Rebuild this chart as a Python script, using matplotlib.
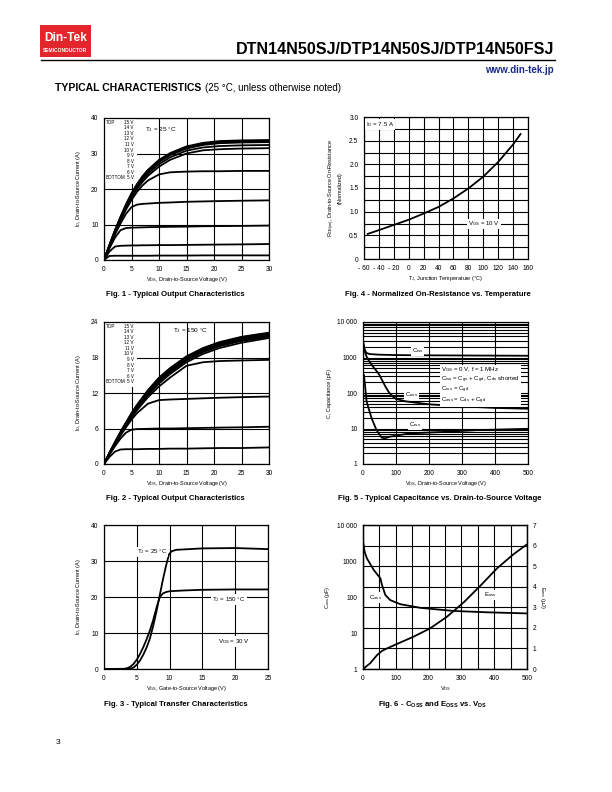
import matplotlib
matplotlib.use("Agg")
import matplotlib.pyplot as plt
from matplotlib.patches import Rectangle
import numpy as np

plt.rcParams["font.family"] = ["Liberation Sans", "DejaVu Sans"]
plt.rcParams["mathtext.fontset"] = "custom"
plt.rcParams["mathtext.rm"] = "Liberation Sans"
plt.rcParams["mathtext.it"] = "Liberation Sans:italic"
plt.rcParams["mathtext.bf"] = "Liberation Sans:bold"

# ---- Fig. 1 : output characteristics, TJ = 25 C
vgs_steps = [15, 14, 13, 12, 11, 10, 9, 8, 7, 6, 5]
vds_25 = [0, 1, 2, 3, 4, 5, 6, 7, 8, 10, 12, 15, 18, 21, 25, 30]
id_25 = [
    [0, 4.3, 8.4, 12.2, 15.7, 18.8, 21.4, 23.6, 25.4, 28.2, 30.1, 32.0, 33.0, 33.5, 33.7, 33.8],
    [0, 4.2, 8.3, 12.0, 15.5, 18.6, 21.2, 23.4, 25.2, 28.0, 29.9, 31.8, 32.8, 33.3, 33.5, 33.6],
    [0, 4.2, 8.2, 11.9, 15.3, 18.4, 21.0, 23.2, 25.0, 27.8, 29.7, 31.6, 32.6, 33.1, 33.3, 33.4],
    [0, 4.1, 8.1, 11.8, 15.2, 18.2, 20.8, 23.0, 24.8, 27.6, 29.5, 31.4, 32.4, 32.9, 33.1, 33.2],
    [0, 4.1, 8.0, 11.6, 15.0, 17.9, 20.4, 22.5, 24.3, 27.0, 28.9, 30.8, 31.7, 32.1, 32.3, 32.4],
    [0, 4.0, 7.8, 11.4, 14.7, 17.6, 20.0, 22.0, 23.7, 26.3, 28.2, 30.0, 30.9, 31.2, 31.4, 31.5],
    [0, 3.9, 7.6, 11.1, 14.2, 16.9, 19.2, 21.0, 22.4, 24.1, 24.7, 24.9, 25.0, 25.0, 25.1, 25.1],
    [0, 3.7, 7.2, 10.3, 13.0, 14.9, 15.6, 15.8, 15.9, 16.1, 16.2, 16.4, 16.5, 16.6, 16.7, 16.8],
    [0, 3.3, 6.3, 8.4, 9.0, 9.1, 9.15, 9.2, 9.25, 9.3, 9.35, 9.4, 9.5, 9.55, 9.6, 9.7],
    [0, 2.4, 3.8, 4.0, 4.05, 4.1, 4.1, 4.15, 4.15, 4.2, 4.2, 4.25, 4.3, 4.35, 4.4, 4.5],
    [0, 1.15, 1.2, 1.2, 1.2, 1.2, 1.2, 1.2, 1.2, 1.25, 1.25, 1.25, 1.3, 1.3, 1.3, 1.3],
]

# ---- Fig. 2 : output characteristics, TJ = 150 C
vds_150 = [0, 1, 2, 3, 4, 5, 6, 8, 10, 12, 15, 18, 21, 25, 30]
id_150 = [
    [0, 1.9, 3.7, 5.4, 7.0, 8.6, 10.0, 12.5, 14.6, 16.2, 18.2, 19.6, 20.6, 21.5, 22.2],
    [0, 1.9, 3.7, 5.4, 7.0, 8.5, 9.9, 12.4, 14.5, 16.1, 18.1, 19.5, 20.5, 21.4, 22.1],
    [0, 1.9, 3.6, 5.3, 6.9, 8.4, 9.8, 12.3, 14.4, 16.0, 18.0, 19.4, 20.4, 21.3, 22.0],
    [0, 1.8, 3.6, 5.3, 6.9, 8.4, 9.7, 12.2, 14.3, 15.9, 17.9, 19.3, 20.3, 21.2, 21.9],
    [0, 1.8, 3.6, 5.2, 6.8, 8.3, 9.6, 12.0, 14.1, 15.7, 17.7, 19.1, 20.1, 21.0, 21.7],
    [0, 1.8, 3.5, 5.2, 6.7, 8.2, 9.5, 11.9, 13.9, 15.5, 17.5, 18.9, 19.9, 20.8, 21.5],
    [0, 1.8, 3.5, 5.1, 6.6, 8.0, 9.3, 11.6, 13.6, 15.2, 17.2, 18.6, 19.6, 20.5, 21.3],
    [0, 1.7, 3.4, 5.0, 6.5, 7.9, 9.1, 11.3, 13.1, 14.6, 16.6, 17.2, 17.4, 17.5, 17.6],
    [0, 1.7, 3.3, 4.8, 6.2, 7.5, 8.6, 10.2, 10.8, 10.9, 11.0, 11.1, 11.2, 11.3, 11.4],
    [0, 1.6, 3.0, 4.3, 5.3, 5.8, 5.9, 5.95, 6.0, 6.0, 6.05, 6.1, 6.15, 6.2, 6.3],
    [0, 1.2, 2.1, 2.45, 2.5, 2.5, 2.5, 2.55, 2.55, 2.6, 2.6, 2.65, 2.7, 2.7, 2.8],
]

# ---- Fig. 3 : transfer characteristics
vgs_t25 = [0, 3, 4, 4.5, 5, 5.5, 6, 6.5, 7, 7.5, 8, 8.5, 9, 9.5, 9.9, 10.3, 11, 12, 15, 20, 25]
id_t25 = [0, 0, 0.1, 0.4, 1.2, 2.4, 4.0, 6.0, 8.5, 12.0, 16.0, 20.5, 25.0, 29.0, 31.8, 32.7, 33.1, 33.2, 33.5, 33.6, 33.3]
vgs_t150 = [0, 3, 3.5, 4, 4.5, 5, 5.5, 6, 6.5, 7, 7.5, 8, 8.5, 9, 9.5, 10, 12, 15, 20, 25]
id_t150 = [0, 0.05, 0.2, 0.6, 1.4, 2.6, 4.2, 6.1, 8.3, 10.7, 13.6, 17.0, 20.0, 21.0, 21.4, 21.6, 21.8, 22.0, 22.1, 22.1]

# ---- Fig. 4 : normalized on-resistance
tj = [-55, -40, -20, 0, 20, 40, 60, 80, 100, 120, 140, 150]
rds_norm = [0.53, 0.61, 0.72, 0.83, 0.96, 1.10, 1.28, 1.49, 1.74, 2.05, 2.42, 2.64]

# ---- Fig. 5 : capacitances
v_ciss = [0, 5, 10, 20, 50, 100, 200, 300, 400, 500]
ciss = [3000, 1700, 1350, 1250, 1200, 1170, 1150, 1140, 1130, 1120]
v_coss = [0, 5, 10, 20, 30, 40, 50, 60, 70, 80, 90, 100, 130, 200, 300, 400, 500]
coss = [2500, 1500, 1100, 750, 560, 430, 320, 210, 140, 100, 80, 68, 58, 48, 42, 38, 36]
v_crss = [3, 11, 26, 41, 57, 67, 82, 142, 243, 344, 500]
crss = [320, 57, 19.5, 9.0, 5.5, 5.3, 5.9, 7.3, 8.0, 9.0, 9.8]

# ---- Fig. 6 : Coss and Eoss
v_coss6 = [0, 5, 12, 33, 53, 58, 68, 83, 114, 175, 276, 378, 500]
coss6 = [3500, 1800, 1180, 560, 330, 215, 114, 82, 63, 50, 41, 37.6, 35]
v_eoss = [0, 22, 43, 58, 73, 104, 154, 205, 256, 307, 358, 409, 459, 500]
eoss = [0, 0.28, 0.68, 0.88, 1.0, 1.22, 1.57, 1.98, 2.54, 3.24, 4.05, 4.9, 5.58, 6.06]

fig = plt.figure(figsize=(6.12, 7.92), dpi=100)

TICK = 4.8
LAB = 4.0
CAP = 5.6
LW = 1.3


def add_ax(l, r, t, b):
    return fig.add_axes([l / 612, 1 - b / 792, (r - l) / 612, (b - t) / 792])


def style(ax):
    ax.set_axisbelow(True)
    ax.grid(True, which="both", color="black", lw=0.8)
    ax.tick_params(which="both", length=0, labelsize=TICK, pad=4)
    for s in ax.spines.values():
        s.set_linewidth(0.9)


def caption(x, y, s):
    fig.text(x / 612, 1 - y / 792, s, ha="center", va="center", fontsize=CAP, fontweight="bold")


def vgs_legend(ax, ytop, ybot, box):
    ax.add_patch(Rectangle((0, box[0]), box[1], box[2], facecolor="white", edgecolor="none", zorder=1))
    ys = np.linspace(ytop, ybot, len(vgs_steps))
    for v, y in zip(vgs_steps, ys):
        ax.text(box[1] * 0.9, y, f"{v} V", fontsize=3.3, ha="right", va="center", zorder=3)
    ax.text(box[1] * 0.05, ys[0], "TOP", fontsize=3.3, va="center", zorder=3)
    ax.text(box[1] * 0.05, ys[-1], "BOTTOM", fontsize=3.3, va="center", zorder=3)


# ---------------- header
fig.patches.append(Rectangle((40 / 612, 1 - 57 / 792), 51 / 612, 32 / 792,
                             transform=fig.transFigure, facecolor="#e3262b", edgecolor="none"))
fig.text(65.5 / 612, 1 - 38 / 792, "Din-Tek", color="white", fontsize=8.6, fontweight="bold",
         ha="center", va="center")
fig.text(65.5 / 612, 1 - 51 / 792, "SEMICONDUCTOR", color="white", fontsize=3.5, fontweight="bold",
         ha="center", va="center")
fig.text(554 / 612, 1 - 49 / 792, "DTN14N50SJ/DTP14N50SJ/DTP14N50FSJ", fontsize=11.6,
         fontweight="bold", ha="right", va="center")
fig.add_artist(plt.Line2D([41 / 612, 555 / 612], [1 - 60 / 792] * 2, color="black", lw=1.0))
fig.text(554 / 612, 1 - 70 / 792, "www.din-tek.jp", fontsize=7.0, fontweight="bold",
         color="#1b2a8c", ha="right", va="center")
fig.text(55 / 612, 1 - 88 / 792, "TYPICAL CHARACTERISTICS", fontsize=7.5, fontweight="heavy",
         ha="left", va="center")
fig.text(205 / 612, 1 - 88 / 792, "(25 °C, unless otherwise noted)", fontsize=7.0,
         ha="left", va="center")
fig.text(56 / 612, 1 - 742 / 792, "3", fontsize=6, ha="left", va="center")

# ---------------- Fig. 1
ax1 = add_ax(104, 269, 118, 260)
for y in id_25:
    ax1.plot(vds_25, y, color="black", lw=LW, zorder=2)
ax1.set_xlim(0, 30)
ax1.set_ylim(0, 40)
ax1.set_xticks(range(0, 31, 5))
ax1.set_yticks(range(0, 41, 10))
style(ax1)
vgs_legend(ax1, 38.8, 23.1, (21.5, 6.0, 18.5))
ax1.text(7.4, 36.8, "T$_\\mathrm{J}$ = 25 °C", fontsize=LAB + 0.6, va="center", zorder=3)
ax1.set_xlabel("V$_\\mathrm{DS}$, Drain-to-Source Voltage (V)", fontsize=LAB, labelpad=2)
ax1.set_ylabel("I$_\\mathrm{D}$, Drain-to-Source Current (A)", fontsize=LAB, labelpad=6)
caption(175, 294, "Fig. 1 - Typical Output Characteristics")

# ---------------- Fig. 2
ax2 = add_ax(104, 269, 322, 464)
for y in id_150:
    ax2.plot(vds_150, y, color="black", lw=LW, zorder=2)
ax2.set_xlim(0, 30)
ax2.set_ylim(0, 24)
ax2.set_xticks(range(0, 31, 5))
ax2.set_yticks(range(0, 25, 6))
style(ax2)
vgs_legend(ax2, 23.3, 13.9, (13.0, 6.0, 11.0))
ax2.text(12.5, 22.6, "T$_\\mathrm{J}$ = 150 °C", fontsize=LAB + 0.6, va="center", zorder=3)
ax2.set_xlabel("V$_\\mathrm{DS}$, Drain-to-Source Voltage (V)", fontsize=LAB, labelpad=2)
ax2.set_ylabel("I$_\\mathrm{D}$, Drain-to-Source Current (A)", fontsize=LAB, labelpad=6)
caption(175, 498, "Fig. 2 - Typical Output Characteristics")

# ---------------- Fig. 3
ax3 = add_ax(104, 268, 525, 669)
ax3.plot(vgs_t25, id_t25, color="black", lw=LW, zorder=2)
ax3.plot(vgs_t150, id_t150, color="black", lw=LW, zorder=2)
ax3.set_xlim(0, 25)
ax3.set_ylim(0, 40)
ax3.set_xticks(range(0, 26, 5))
ax3.set_yticks(range(0, 41, 10))
style(ax3)
box = dict(facecolor="white", edgecolor="none", pad=0.6)
ax3.text(9.6, 32.5, "T$_\\mathrm{J}$ = 25 °C", fontsize=LAB + 0.4, ha="right", va="center", bbox=box, zorder=3)
ax3.text(16.5, 19.3, "T$_\\mathrm{J}$ = 150 °C", fontsize=LAB + 0.4, ha="left", va="center", bbox=box, zorder=3)
ax3.text(17.4, 7.6, "V$_\\mathrm{DS}$ = 30 V", fontsize=LAB + 0.4, ha="left", va="center", bbox=box, zorder=3)
ax3.set_xlabel("V$_\\mathrm{GS}$, Gate-to-Source Voltage (V)", fontsize=LAB, labelpad=2)
ax3.set_ylabel("I$_\\mathrm{D}$, Drain-to-Source Current (A)", fontsize=LAB, labelpad=6)
caption(176, 704, "Fig. 3 - Typical Transfer Characteristics")

# ---------------- Fig. 4
ax4 = add_ax(364, 528, 117, 259)
ax4.plot(tj, rds_norm, color="black", lw=LW, zorder=2)
ax4.set_xlim(-60, 160)
ax4.set_ylim(0, 3.0)
ax4.set_xticks(range(-60, 161, 20))
ax4.set_xticklabels(["- 60", "- 40", "- 20", "0", "20", "40", "60", "80", "100", "120", "140", "160"])
ax4.set_yticks([0, 0.5, 1.0, 1.5, 2.0, 2.5, 3.0])
ax4.set_yticklabels(["0", "0.5", "1.0", "1.5", "2.0", "2.5", "3.0"])
ax4.set_yticks(np.arange(0, 3.01, 0.25), minor=True)
style(ax4)
ax4.text(-57, 2.84, "I$_\\mathrm{D}$ = 7.5 A", fontsize=LAB + 0.4, va="center", bbox=box, zorder=3)
ax4.text(79, 0.74, "V$_\\mathrm{GS}$ = 10 V", fontsize=LAB + 0.4, va="center", bbox=box, zorder=3)
ax4.set_xlabel("T$_\\mathrm{J}$, Junction Temperature (°C)", fontsize=LAB, labelpad=2)
ax4.set_ylabel("R$_\\mathrm{DS(on)}$, Drain-to-Source On-Resistance\n(Normalized)", fontsize=LAB,
               labelpad=5, linespacing=1.1)
caption(438, 294, "Fig. 4 - Normalized On-Resistance vs. Temperature")

# ---------------- Fig. 5
ax5 = add_ax(363, 528, 322, 464)
ax5.plot(v_ciss, ciss, color="black", lw=LW, zorder=2)
ax5.plot(v_coss, coss, color="black", lw=LW, zorder=2)
ax5.plot(v_crss, crss, color="black", lw=LW, zorder=2)
ax5.set_yscale("log")
ax5.set_xlim(0, 500)
ax5.set_ylim(1, 10000)
ax5.set_xticks(range(0, 501, 100))
ax5.set_yticks([1, 10, 100, 1000, 10000])
ax5.set_yticklabels(["1", "10", "100", "1000", "10 000"])
ax5.yaxis.set_minor_locator(matplotlib.ticker.LogLocator(base=10, subs=np.arange(2, 10)))
ax5.yaxis.set_minor_formatter(matplotlib.ticker.NullFormatter())
style(ax5)
ax5.text(165, 1600, "C$_\\mathrm{iss}$", fontsize=LAB + 0.4, ha="center", va="center", bbox=box, zorder=3)
ax5.text(148, 88, "C$_\\mathrm{oss}$", fontsize=LAB + 0.4, ha="center", va="center", bbox=box, zorder=3)
ax5.text(158, 12.6, "C$_\\mathrm{rss}$", fontsize=LAB + 0.4, ha="center", va="center", bbox=box, zorder=3)
ax5.text(237, 600,
         "V$_\\mathrm{GS}$ = 0 V, f = 1 MHz\n"
         "C$_\\mathrm{iss}$ = C$_\\mathrm{gs}$ + C$_\\mathrm{gd}$, C$_\\mathrm{ds}$ shorted\n"
         "C$_\\mathrm{rss}$ = C$_\\mathrm{gd}$\n"
         "C$_\\mathrm{oss}$ = C$_\\mathrm{ds}$ + C$_\\mathrm{gd}$",
         fontsize=LAB + 0.4, ha="left", va="top", linespacing=1.05,
         bbox=dict(facecolor="white", edgecolor="none", pad=1.0), zorder=3)
ax5.set_xlabel("V$_\\mathrm{DS}$, Drain-to-Source Voltage (V)", fontsize=LAB, labelpad=2)
ax5.set_ylabel("C, Capacitance (pF)", fontsize=LAB, labelpad=4)
caption(440, 498, "Fig. 5 - Typical Capacitance vs. Drain-to-Source Voltage")

# ---------------- Fig. 6
ax6 = add_ax(363, 527, 525, 669)
ax6.plot(v_eoss, eoss, color="black", lw=LW, zorder=2)
ax6.set_xlim(0, 500)
ax6.set_ylim(0, 7)
ax6.set_xticks(range(0, 501, 100))
ax6.set_xticks(range(0, 501, 50), minor=True)
ax6.set_yticks(range(0, 8))
style(ax6)
ax6.text(387, 3.6, "E$_\\mathrm{oss}$", fontsize=LAB + 0.4, ha="center", va="center", bbox=box, zorder=3)
ax6.set_xlabel("V$_\\mathrm{DS}$", fontsize=LAB, labelpad=2)
ax6b = ax6.twinx()
ax6b.plot(v_coss6, coss6, color="black", lw=LW, zorder=2)
ax6b.set_yscale("log")
ax6b.set_ylim(1, 10000)
ax6b.set_yticks([1, 10, 100, 1000, 10000])
ax6b.set_yticklabels(["1", "10", "100", "1000", "10 000"])
ax6b.yaxis.set_minor_formatter(matplotlib.ticker.NullFormatter())
ax6b.tick_params(which="both", length=0, labelsize=TICK, pad=4)
ax6b.yaxis.tick_left()
ax6b.yaxis.set_label_position("left")
ax6b.set_ylabel("C$_\\mathrm{oss}$ (pF)", fontsize=LAB, labelpad=4)
ax6b.text(37, 95, "C$_\\mathrm{oss}$", fontsize=LAB + 0.4, ha="center", va="center", bbox=box, zorder=3)
for s in ax6b.spines.values():
    s.set_linewidth(0.9)
# twinx() moves the original ticks to the left, so put them back on the right
ax6.yaxis.tick_right()
ax6.yaxis.set_label_position("right")
ax6.tick_params(which="both", length=0, labelsize=TICK, pad=4)
ax6.set_ylabel("E$_\\mathrm{oss}$ (µJ)", fontsize=LAB, rotation=270, labelpad=8)
caption(433, 704, "Fig. 6 - C$_\\mathbf{OSS}$ and E$_\\mathbf{OSS}$ vs. V$_\\mathbf{DS}$")

fig.savefig("out.png", dpi=100)
